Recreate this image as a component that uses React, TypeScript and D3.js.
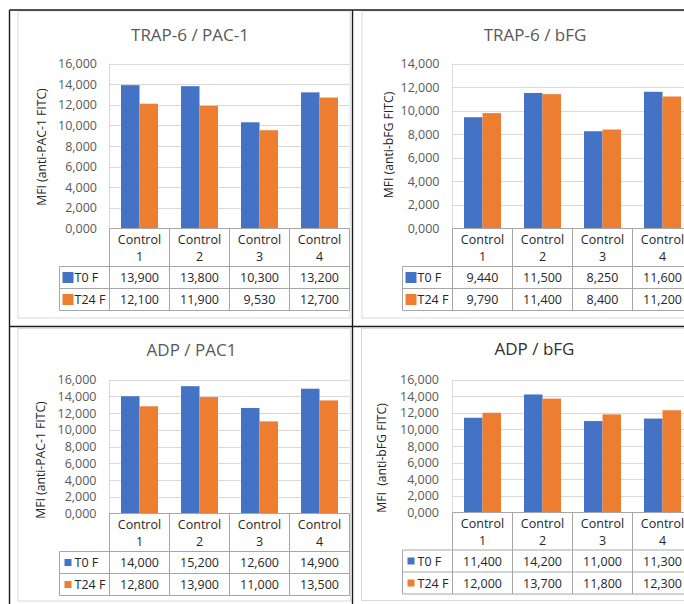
import React from "react";
import * as d3 from "d3";

// Categories, series and values for the four panels
const categories = ["Control 1", "Control 2", "Control 3", "Control 4"];
const seriesNames = ["T0 F", "T24 F"];
const seriesColors = ["#4472C4", "#ED7D31"];

const trapPac1T0 = [13900, 13800, 10300, 13200];
const trapPac1T24 = [12100, 11900, 9530, 12700];

const trapBfgT0 = [9440, 11500, 8250, 11600];
const trapBfgT24 = [9790, 11400, 8400, 11200];

const adpPac1T0 = [14000, 15200, 12600, 14900];
const adpPac1T24 = [12800, 13900, 11000, 13500];

const adpBfgT0 = [11400, 14200, 11000, 11300];
const adpBfgT24 = [12000, 13700, 11800, 12300];

const titles = ["TRAP-6 / PAC-1", "TRAP-6 / bFG", "ADP / PAC1", "ADP / bFG"];
const axisTitles = [
  "MFI (anti-PAC-1 FITC)",
  "MFI (anti-bFG FITC)",
  "MFI (anti-PAC-1 FITC)",
  "MFI  (anti-bFG FITC)",
];
const axisMax = [16000, 14000, 16000, 16000];
const tickStep = 2000;

const FONT = "'Open Sans', 'Liberation Sans', sans-serif";
const fmtTick = (v: number) =>
  `${Math.floor(v / 1000)},${String(v % 1000).padStart(3, "0")}`;
const fmtVal = d3.format(",");

type Layout = {
  titleX: number;
  titleY: number;
  titleColor: string;
  axisTitleX: number;
  axisTitleY: number;
  plotLeft: number;
  plotTop: number;
  plotBottom: number;
  tickRight: number;
  legendLeft: number;
  headerBottom: number;
  rowH: number;
  marker: number;
  frame: [number, number, number, number];
};

const layouts: Layout[] = [
  {
    titleX: 190, titleY: 40.5, titleColor: "#595959",
    axisTitleX: 41, axisTitleY: 147,
    plotLeft: 109.5, plotTop: 63.5, plotBottom: 228.5,
    tickRight: 97, legendLeft: 59.5, headerBottom: 266.5, rowH: 22, marker: 11,
    frame: [18, 11, 350, 318],
  },
  {
    titleX: 535, titleY: 40.5, titleColor: "#595959",
    axisTitleX: 388, axisTitleY: 145,
    plotLeft: 452.5, plotTop: 63.5, plotBottom: 228.5,
    tickRight: 439.5, legendLeft: 402.5, headerBottom: 266.5, rowH: 22, marker: 11,
    frame: [362, 11, 700, 318],
  },
  {
    titleX: 191.5, titleY: 356, titleColor: "#595959",
    axisTitleX: 40.5, axisTitleY: 460,
    plotLeft: 109.5, plotTop: 379.5, plotBottom: 513.5,
    tickRight: 96.5, legendLeft: 59.5, headerBottom: 551.5, rowH: 22, marker: 7,
    frame: [18, 328.5, 350.5, 601],
  },
  {
    titleX: 534.5, titleY: 355, titleColor: "#303030",
    axisTitleX: 381, axisTitleY: 458,
    plotLeft: 452.5, plotTop: 379.5, plotBottom: 512.5,
    tickRight: 439, legendLeft: 402.5, headerBottom: 550, rowH: 22, marker: 7,
    frame: [361.5, 328.5, 700, 600.5],
  },
];

const panelData: number[][][] = [
  [trapPac1T0, trapPac1T24],
  [trapBfgT0, trapBfgT24],
  [adpPac1T0, adpPac1T24],
  [adpBfgT0, adpBfgT24],
];

const COL_W = 60;
const GRID = "#D9D9D9";
const TABLE = "#A6A6A6";

function Panel({ idx }: { idx: number }) {
  const L = layouts[idx];
  const data = panelData[idx];
  const max = axisMax[idx];
  const plotRight = L.plotLeft + COL_W * categories.length;

  const y = d3.scaleLinear().domain([0, max]).range([L.plotBottom, L.plotTop]);
  const x = d3.scaleBand().domain(categories).range([L.plotLeft, plotRight]).padding(0);
  const xs = d3.scaleBand().domain(seriesNames).range([11.5, 48.5]).padding(0);
  const ticks = d3.range(0, max + 1, tickStep);

  const row1Top = L.headerBottom;
  const tableBottom = row1Top + L.rowH * seriesNames.length;
  const colEdges = categories.map((c) => x(c)!).concat([plotRight]);

  return (
    <g>
      {/* chart frame */}
      <rect
        x={L.frame[0]} y={L.frame[1]}
        width={L.frame[2] - L.frame[0]} height={L.frame[3] - L.frame[1]}
        fill="#fff" stroke={GRID} strokeWidth={1}
      />
      <text x={L.titleX} y={L.titleY} textAnchor="middle" fontSize={17}
        fill={L.titleColor} fontFamily={FONT}>
        {titles[idx]}
      </text>
      <text
        transform={`translate(${L.axisTitleX},${L.axisTitleY}) rotate(-90)`}
        textAnchor="middle" dominantBaseline="central" fontSize={12.2}
        fill="#262626" fontFamily={FONT} style={{ whiteSpace: "pre" }}>
        {axisTitles[idx]}
      </text>

      {/* gridlines and tick labels */}
      {ticks.map((t) => (
        <g key={t}>
          {t > 0 && (
            <line x1={L.plotLeft} x2={plotRight} y1={Math.round(y(t)) + 0.5}
              y2={Math.round(y(t)) + 0.5} stroke={GRID} strokeWidth={1} />
          )}
          <text x={L.tickRight} y={y(t)} textAnchor="end" dominantBaseline="central"
            fontSize={12.5} fill="#595959" fontFamily={FONT}>
            {fmtTick(t)}
          </text>
        </g>
      ))}
      <line x1={L.plotLeft} x2={L.plotLeft} y1={L.plotTop} y2={L.plotBottom}
        stroke={GRID} strokeWidth={1} />

      {/* bars */}
      {seriesNames.map((s, si) =>
        categories.map((c, ci) => {
          const v = data[si][ci];
          return (
            <rect key={s + c} x={x(c)! + xs(s)!} y={y(v)} width={xs.bandwidth()}
              height={L.plotBottom - y(v)} fill={seriesColors[si]} />
          );
        })
      )}

      {/* data table */}
      <g stroke={TABLE} strokeWidth={1} fill="none">
        <line x1={L.plotLeft} x2={plotRight} y1={L.plotBottom} y2={L.plotBottom} />
        {seriesNames.map((s, si) => (
          <line key={s} x1={L.legendLeft} x2={plotRight}
            y1={row1Top + si * L.rowH} y2={row1Top + si * L.rowH} />
        ))}
        <line x1={L.legendLeft} x2={plotRight} y1={tableBottom} y2={tableBottom} />
        <line x1={L.legendLeft} x2={L.legendLeft} y1={row1Top} y2={tableBottom} />
        {colEdges.map((e, i) => (
          <line key={i} x1={e} x2={e} y1={L.plotBottom} y2={tableBottom} />
        ))}
      </g>
      {categories.map((c) => {
        const [w1, w2] = c.split(" ");
        const cx = x(c)! + COL_W / 2;
        return (
          <g key={c} fontFamily={FONT} fontSize={12.5} fill="#262626" textAnchor="middle">
            <text x={cx} y={L.plotBottom + 11} dominantBaseline="central">{w1}</text>
            <text x={cx} y={L.plotBottom + 28} dominantBaseline="central">{w2}</text>
          </g>
        );
      })}
      {seriesNames.map((s, si) => {
        const cy = row1Top + si * L.rowH + L.rowH / 2;
        const mx = L.legendLeft + (L.marker > 8 ? 3 : 5);
        return (
          <g key={s} fontFamily={FONT} fontSize={12.5} fill="#262626">
            <rect x={mx} y={cy - L.marker / 2} width={L.marker} height={L.marker}
              fill={seriesColors[si]} />
            <text x={L.legendLeft + 15} y={cy} dominantBaseline="central">{s}</text>
            {categories.map((c, ci) => (
              <text key={c} x={x(c)! + COL_W / 2} y={cy} textAnchor="middle"
                dominantBaseline="central">
                {fmtVal(data[si][ci])}
              </text>
            ))}
          </g>
        );
      })}
    </g>
  );
}

export default function App() {
  return (
    <svg width={684} height={604} style={{ position: "absolute", left: 0, top: 0 }}>
      <rect width={684} height={604} fill="#fff" />
      {layouts.map((_, i) => (
        <Panel key={i} idx={i} />
      ))}
      {/* outer grid lines between panels */}
      <g stroke="#1a1a1a" strokeWidth={1.4}>
        <line x1={9.5} x2={684} y1={10} y2={10} />
        <line x1={9.5} x2={9.5} y1={10} y2={604} />
        <line x1={352.5} x2={352.5} y1={10} y2={604} />
        <line x1={9.5} x2={684} y1={326.5} y2={326.5} />
      </g>
    </svg>
  );
}
